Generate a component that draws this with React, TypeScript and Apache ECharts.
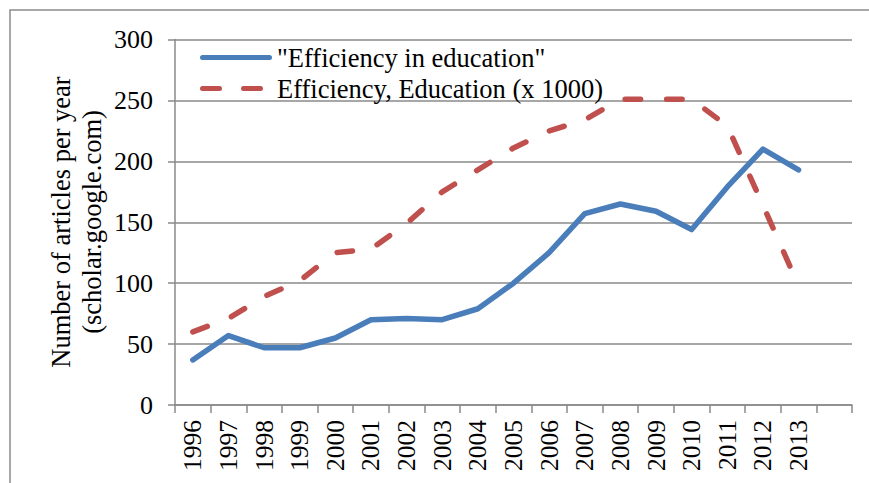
import React, { useEffect, useRef } from "react";
import * as echarts from "echarts";

const categories = ["1996","1997","1998","1999","2000","2001","2002","2003","2004","2005","2006","2007","2008","2009","2010","2011","2012","2013",""];
const phraseSeries = [37, 57, 47, 47, 55, 70, 71, 70, 79, 100, 125, 157, 165, 159, 144, 179, 210, 193];
const keywordSeries = [60, 71, 89, 102, 125, 128, 149, 175, 193, 211, 225, 234, 251, 251, 251, 229, 164, 98];
const seriesNames = ['"Efficiency in education"', "Efficiency, Education (x 1000)"];
const yAxisTitle = "Number of articles per year\n(scholar.google.com)";

const FONT = "Liberation Serif";
const GRID = "#8a8a8a";
const BLUE = "#4a7ebb";
const RED = "#c0504d";

const solidIcon = "path://M2.5,0H69.5A2.5,2.5 0 0 1 69.5,5H2.5A2.5,2.5 0 0 1 2.5,0Z";
const dashIcon =
  "path://M2.5,0H19.5A2.5,2.5 0 0 1 19.5,5H2.5A2.5,2.5 0 0 1 2.5,0Z" +
  "M43.5,0H60.5A2.5,2.5 0 0 1 60.5,5H43.5A2.5,2.5 0 0 1 43.5,0Z" +
  "M72,0L72,5L72,5Z";

export default function App() {
  const ref = useRef<HTMLDivElement>(null);
  useEffect(() => {
    if (!ref.current) return;
    const chart = echarts.init(ref.current, undefined, { renderer: "svg" });
    chart.setOption({
      animation: false,
      backgroundColor: "#ffffff",
      textStyle: { fontFamily: FONT, color: "#000" },
      grid: { left: 175, right: 17, top: 39.5, bottom: 78, containLabel: false },
      graphic: [
        {
          type: "rect",
          shape: { x: 10, y: 10, width: 900, height: 500 },
          style: { fill: "none", stroke: "#8c8c8c", lineWidth: 1.5 },
          silent: true,
          z: -1,
        },
        {
          type: "text",
          x: 76,
          y: 222,
          rotation: Math.PI / 2,
          style: {
            text: yAxisTitle,
            fontFamily: FONT,
            fontSize: 26.5,
            lineHeight: 31,
            fill: "#000",
            align: "center",
            verticalAlign: "middle",
          },
          silent: true,
        },
      ],
      legend: {
        orient: "vertical",
        left: 200,
        top: 44,
        padding: 0,
        itemWidth: 72,
        itemHeight: 5,
        itemGap: 4,
        textStyle: { fontFamily: FONT, fontSize: 26.5, color: "#000" },
        data: [
          { name: seriesNames[0], icon: solidIcon },
          { name: seriesNames[1], icon: dashIcon },
        ],
      },
      xAxis: {
        type: "category",
        data: categories,
        boundaryGap: true,
        axisLine: { show: true, lineStyle: { color: GRID, width: 1.5 } },
        axisTick: { show: true, interval: 0, length: 8, lineStyle: { color: GRID, width: 1.5 } },
        axisLabel: { interval: 0, rotate: 90, margin: 15, fontFamily: FONT, fontSize: 25.5, color: "#000" },
        splitLine: { show: false },
      },
      yAxis: {
        type: "value",
        min: 0,
        max: 300,
        interval: 50,
        axisLine: { show: true, lineStyle: { color: GRID, width: 1.5 } },
        axisTick: { show: true, length: 7, lineStyle: { color: GRID, width: 1.5 } },
        axisLabel: { margin: 22, fontFamily: FONT, fontSize: 26, color: "#000" },
        splitLine: { show: true, lineStyle: { color: GRID, width: 1.5 } },
      },
      series: [
        {
          name: seriesNames[0],
          type: "line",
          data: phraseSeries,
          symbol: "none",
          lineStyle: { color: BLUE, width: 5.5, cap: "round", join: "round" },
          itemStyle: { color: BLUE },
          z: 3,
        },
        {
          name: seriesNames[1],
          type: "line",
          data: keywordSeries,
          symbol: "none",
          lineStyle: { color: RED, width: 5.5, type: [15.5, 26], cap: "round", join: "round" },
          itemStyle: { color: RED },
          z: 2,
        },
      ],
    });
    return () => chart.dispose();
  }, []);
  return (
    <div
      ref={ref}
      style={{ position: "absolute", left: 0, top: 0, width: 869, height: 483 }}
    />
  );
}
